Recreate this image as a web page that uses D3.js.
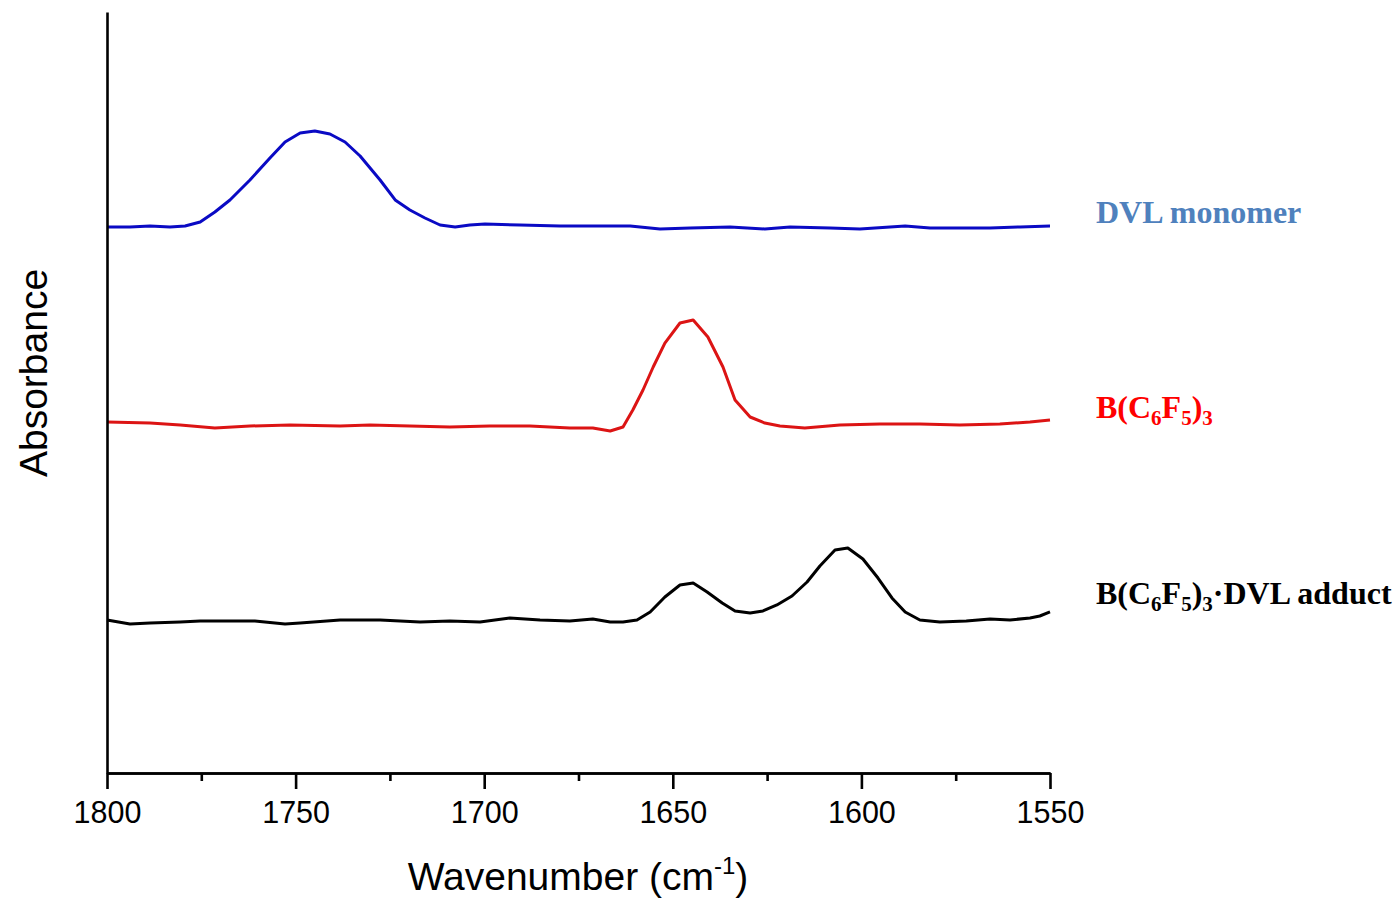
<!DOCTYPE html>
<html>
<head>
<meta charset="utf-8">
<script src="https://cdn.jsdelivr.net/npm/d3@7"></script>
<style>
  body { margin: 0; background: #fff; }
  svg { display: block; }
</style>
</head>
<body>
<svg id="chart"></svg>
<script>
// spectra (wavenumber, absorbance in arbitrary units)
const dvlWave = [1800, 1793.9, 1788.6, 1783.3, 1779.3, 1775.3, 1771.4, 1767.4, 1762.1, 1756.8, 1752.8, 1748.8, 1744.9, 1740.9, 1736.9, 1732.9, 1727.6, 1723.6, 1719.7, 1715.7, 1711.7, 1707.7, 1703.8, 1699.8, 1690.5, 1679.9, 1669.3, 1661.3, 1653.4, 1645.4, 1634.8, 1625.6, 1618.9, 1608.3, 1600.4, 1588.4, 1581.8, 1573.9, 1565.9, 1557.9, 1550]
const dvlAbs = [0.7175, 0.7175, 0.7188, 0.7175, 0.7188, 0.7240, 0.7372, 0.7530, 0.7792, 0.8081, 0.8292, 0.8410, 0.8436, 0.8397, 0.8292, 0.8108, 0.7792, 0.7530, 0.7398, 0.7293, 0.7201, 0.7175, 0.7201, 0.7214, 0.7201, 0.7188, 0.7188, 0.7188, 0.7149, 0.7162, 0.7175, 0.7149, 0.7175, 0.7162, 0.7149, 0.7188, 0.7162, 0.7162, 0.7162, 0.7175, 0.7188]

const boraneWave = [1800, 1788.6, 1780.6, 1771.4, 1762.1, 1751.5, 1738.2, 1730.3, 1719.7, 1709.1, 1698.5, 1687.9, 1677.3, 1671.2, 1666.6, 1663.2, 1660.6, 1657.9, 1655.2, 1652.1, 1648.1, 1644.6, 1640.7, 1636.7, 1633.5, 1629.5, 1625.6, 1621.6, 1615.0, 1605.7, 1595.1, 1584.5, 1573.9, 1563.3, 1555.3, 1550]
const boraneAbs = [0.4612, 0.4599, 0.4573, 0.4534, 0.4560, 0.4573, 0.4560, 0.4573, 0.4560, 0.4547, 0.4560, 0.4560, 0.4534, 0.4534, 0.4494, 0.4547, 0.4770, 0.5033, 0.5335, 0.5650, 0.5913, 0.5953, 0.5729, 0.5335, 0.4901, 0.4678, 0.4599, 0.4560, 0.4534, 0.4573, 0.4586, 0.4586, 0.4573, 0.4586, 0.4612, 0.4639]

const adductWave = [1800, 1793.9, 1788.6, 1780.6, 1775.3, 1767.4, 1760.8, 1752.8, 1748.8, 1738.2, 1727.6, 1717.0, 1709.1, 1701.1, 1693.2, 1685.2, 1677.3, 1671.2, 1666.6, 1663.2, 1659.5, 1656.0, 1652.1, 1648.1, 1644.6, 1640.9, 1636.9, 1633.5, 1629.5, 1626.1, 1622.4, 1618.4, 1614.4, 1611.0, 1607.0, 1603.6, 1599.6, 1595.6, 1591.9, 1588.4, 1584.5, 1579.2, 1572.2, 1565.9, 1560.6, 1555.3, 1552.7, 1550]
const adductAbs = [0.2011, 0.1958, 0.1971, 0.1984, 0.1997, 0.1997, 0.1997, 0.1958, 0.1971, 0.2011, 0.2011, 0.1984, 0.1997, 0.1984, 0.2037, 0.2011, 0.1997, 0.2024, 0.1984, 0.1984, 0.2011, 0.2116, 0.2313, 0.2470, 0.2497, 0.2378, 0.2234, 0.2129, 0.2102, 0.2129, 0.2208, 0.2326, 0.2510, 0.2720, 0.2930, 0.2957, 0.2812, 0.2562, 0.2300, 0.2116, 0.2011, 0.1984, 0.1997, 0.2024, 0.2011, 0.2037, 0.2063, 0.2116]

const majorTicks = [1800, 1750, 1700, 1650, 1600, 1550]
const minorTicks = [1775, 1725, 1675, 1625, 1575]

let width = 1400
let height = 899

let svg = d3.select("#chart")
    .attr("width", width)
    .attr("height", height)

let xScale = d3.scaleLinear()
    .domain([1800, 1550])
    .range([107, 1050])

let yScale = d3.scaleLinear()
    .domain([0, 1])
    .range([773, 12])

let series = [
    { wave: dvlWave, abs: dvlAbs, color: "#0a0ac4" },
    { wave: boraneWave, abs: boraneAbs, color: "#dc1414" },
    { wave: adductWave, abs: adductAbs, color: "#000000" }
]

let line = d3.line()
    .x(d => xScale(d[0]))
    .y(d => yScale(d[1]))

series.forEach(s => {
    svg.append("path")
        .datum(d3.zip(s.wave, s.abs))
        .attr("fill", "none")
        .attr("stroke", s.color)
        .attr("stroke-width", 3)
        .attr("stroke-linejoin", "round")
        .attr("d", line)
})

// axes
let xAxis = d3.axisBottom(xScale)
    .tickValues(majorTicks)
    .tickFormat(d3.format("d"))
    .tickSize(16)
    .tickSizeOuter(0)
    .tickPadding(12)

let xMinor = d3.axisBottom(xScale)
    .tickValues(minorTicks)
    .tickFormat("")
    .tickSize(8)
    .tickSizeOuter(0)

let gx = svg.append("g")
    .attr("transform", "translate(0," + 773 + ")")
    .call(xAxis)
gx.selectAll("text")
    .style("font-family", "'Liberation Sans', Arial, sans-serif")
    .style("font-size", "30.5px")
    .attr("fill", "#000")

svg.append("g")
    .attr("transform", "translate(0," + 773 + ")")
    .call(xMinor)

let gy = svg.append("g")
    .attr("transform", "translate(107,0)")
    .call(d3.axisLeft(yScale).tickValues([]).tickSizeOuter(0))

svg.selectAll(".domain, .tick line")
    .attr("stroke", "#000")
    .attr("stroke-width", 2.6)

// axis titles
let xTitle = svg.append("text")
    .attr("x", 578)
    .attr("y", 890)
    .attr("text-anchor", "middle")
    .style("font-family", "'Liberation Sans', Arial, sans-serif")
    .style("font-size", "39px")
    .attr("fill", "#000")
xTitle.append("tspan").text("Wavenumber (cm")
xTitle.append("tspan").attr("dy", -16).style("font-size", "24px").text("-1")
xTitle.append("tspan").attr("dy", 16).text(")")

svg.append("text")
    .attr("transform", "translate(47,373) rotate(-90)")
    .attr("text-anchor", "middle")
    .style("font-family", "'Liberation Sans', Arial, sans-serif")
    .style("font-size", "39px")
    .attr("fill", "#000")
    .text("Absorbance")

// series labels
let labelFont = "'Liberation Serif', 'Times New Roman', serif"

let addLabel = (y, color, parts) => {
    let t = svg.append("text")
        .attr("x", 1096)
        .attr("y", y)
        .style("font-family", labelFont)
        .style("font-weight", "bold")
        .style("font-size", "32px")
        .attr("fill", color)
    let shift = 0
    parts.forEach(p => {
        let dy = (p.sub ? 7 : 0) - shift
        shift = p.sub ? 7 : 0
        t.append("tspan")
            .attr("dy", dy)
            .style("font-size", p.sub ? "21px" : "32px")
            .text(p.t)
    })
}

addLabel(223, "#4f81bd", [{ t: "DVL monomer" }])
addLabel(418, "#ff0000", [{ t: "B(C" }, { t: "6", sub: true }, { t: "F" }, { t: "5", sub: true }, { t: ")" }, { t: "3", sub: true }])
addLabel(604, "#000000", [{ t: "B(C" }, { t: "6", sub: true }, { t: "F" }, { t: "5", sub: true }, { t: ")" }, { t: "3", sub: true }, { t: "\u00b7DVL adduct" }])
</script>
</body>
</html>
